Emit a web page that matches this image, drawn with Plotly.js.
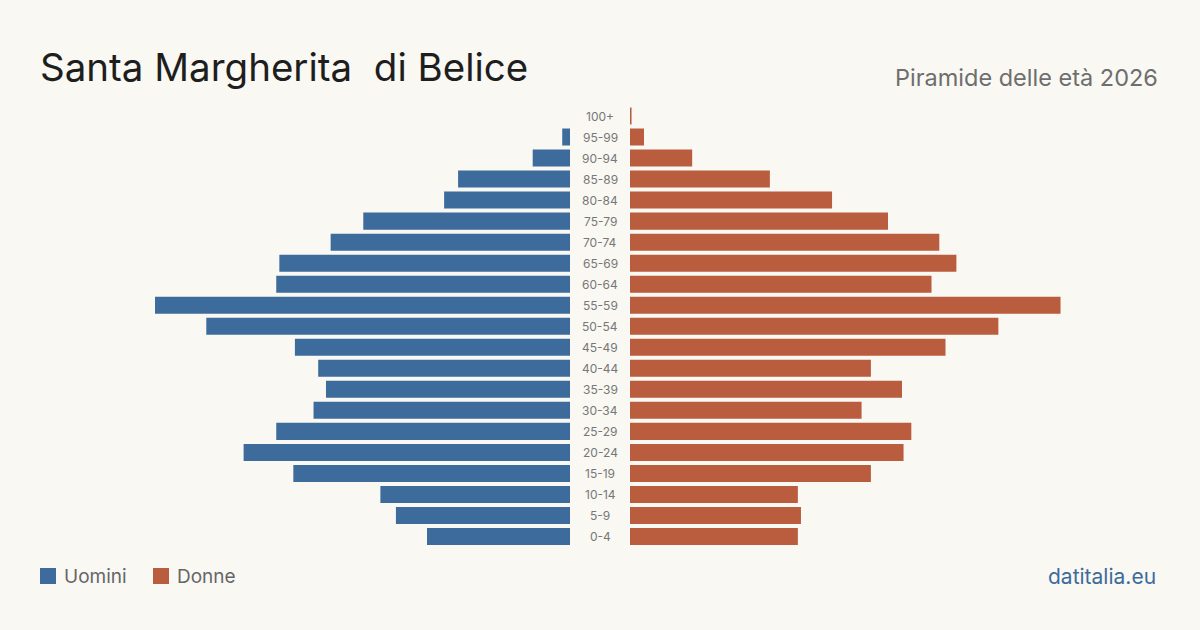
<!DOCTYPE html>
<html>
<head>
<meta charset="utf-8">
<script src="https://cdn.plot.ly/plotly-3.0.1.min.js"></script>
<style>
  html, body { margin: 0; padding: 0; background: #f9f8f3; }
  #chart { width: 1200px; height: 630px; }
</style>
</head>
<body>
<div id="chart"></div>
<script>
// Age groups, youngest first (bottom of the pyramid)
const ageGroups = ["0-4","5-9","10-14","15-19","20-24","25-29","30-34","35-39","40-44","45-49",
                   "50-54","55-59","60-64","65-69","70-74","75-79","80-84","85-89","90-94","95-99","100+"];
// Residents by sex and age group
const males   = [92, 112, 122, 178, 210, 189, 165, 157, 162, 177, 234, 267, 189, 187, 154, 133, 81, 72, 24, 5, 0];
const females = [108, 110, 108, 155, 176, 181, 149, 175, 155, 203, 237, 277, 194, 210, 199, 166, 130, 90, 40, 9, 1];

const titleText = "Santa Margherita\u00a0 di Belice";
const subtitleText = "Piramide delle età 2026";
const legendLabels = ["Uomini", "Donne"];
const sourceText = "datitalia.eu";

const BLUE = "#3d6b9b";
const ORANGE = "#b95d3e";
const W = 1200, H = 630;
const FONT = "Inter, 'Noto Sans', sans-serif";
const maxVal = 341;

const px = v => v / W;
const py = v => (H - v) / H;

const traces = [
  { type: "bar", orientation: "h", y: ageGroups, x: males, xaxis: "x", yaxis: "y",
    marker: { color: BLUE }, hoverinfo: "x+y", name: legendLabels[0] },
  { type: "bar", orientation: "h", y: ageGroups, x: females, xaxis: "x2", yaxis: "y",
    marker: { color: ORANGE }, hoverinfo: "x+y", name: legendLabels[1] }
];

const annotations = ageGroups.map(g => ({
  xref: "paper", yref: "y", x: 0.5, y: g, text: g, showarrow: false,
  xanchor: "center", yanchor: "middle",
  font: { family: FONT, size: 12, color: "#777777" }
}));

annotations.push(
  { xref: "paper", yref: "paper", x: px(38), y: py(67), xanchor: "left", yanchor: "middle",
    text: titleText, showarrow: false, font: { family: FONT, size: 38.5, color: "#1e1e1e" } },
  { xref: "paper", yref: "paper", x: px(1160), y: py(77), xanchor: "right", yanchor: "middle",
    text: subtitleText, showarrow: false, font: { family: FONT, size: 23.5, color: "#6e6e6e" } },
  { xref: "paper", yref: "paper", x: px(62), y: py(576), xanchor: "left", yanchor: "middle",
    text: legendLabels[0], showarrow: false, font: { family: FONT, size: 19, color: "#666666" } },
  { xref: "paper", yref: "paper", x: px(175), y: py(576), xanchor: "left", yanchor: "middle",
    text: legendLabels[1], showarrow: false, font: { family: FONT, size: 19, color: "#666666" } },
  { xref: "paper", yref: "paper", x: px(1158), y: py(576), xanchor: "right", yanchor: "middle",
    text: sourceText, showarrow: false, font: { family: FONT, size: 21, color: "#3d6b9b" } }
);

const shapes = [
  { type: "rect", xref: "paper", yref: "paper", x0: px(40), x1: px(56), y0: py(568), y1: py(584),
    fillcolor: BLUE, line: { width: 0 } },
  { type: "rect", xref: "paper", yref: "paper", x0: px(153), x1: px(169), y0: py(568), y1: py(584),
    fillcolor: ORANGE, line: { width: 0 } }
];

const hidden = { showgrid: false, zeroline: false, showticklabels: false, ticks: "", showline: false, fixedrange: true };

const layout = {
  width: W, height: H,
  margin: { l: 0, r: 0, t: 0, b: 0 },
  paper_bgcolor: "#f9f8f3", plot_bgcolor: "rgba(0,0,0,0)",
  showlegend: false,
  bargap: 0.19,
  xaxis: Object.assign({}, hidden, { domain: [px(40), px(570)], range: [maxVal, 0], anchor: "y" }),
  xaxis2: Object.assign({}, hidden, { domain: [px(630), px(1160)], range: [0, maxVal], anchor: "y" }),
  yaxis: Object.assign({}, hidden, { domain: [py(547), py(105.5)], range: [-0.5, 20.5], type: "category" }),
  annotations: annotations,
  shapes: shapes
};

Plotly.newPlot("chart", traces, layout, { displayModeBar: false, staticPlot: true });
</script>
</body>
</html>
